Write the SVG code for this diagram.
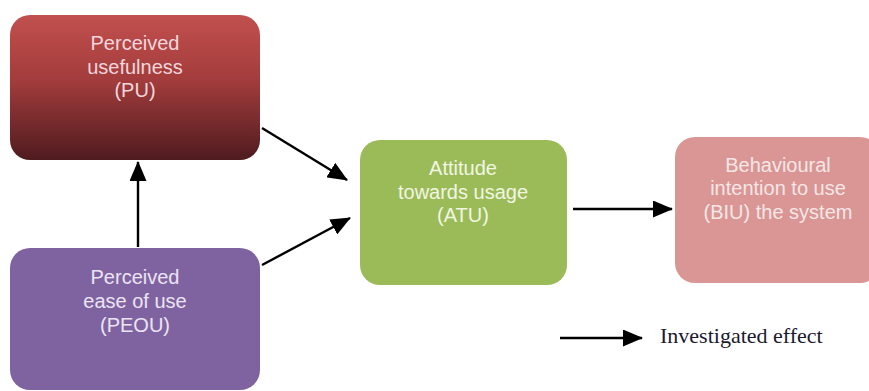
<svg xmlns="http://www.w3.org/2000/svg" width="869" height="391" viewBox="0 0 869 391">
<style>
.lbl{font-family:"Liberation Sans",Arial,sans-serif;font-size:20px;text-anchor:middle}
.con{stroke:#000;stroke-width:2.4;fill:none}
</style>
<defs>
<linearGradient id="puGrad" x1="0" y1="0" x2="0" y2="1">
<stop offset="0" stop-color="#c1504e"/>
<stop offset="0.45" stop-color="#a33c3c"/>
<stop offset="1" stop-color="#4f1b1f"/>
</linearGradient>
<marker id="ah" viewBox="0 0 20 17" refX="19" refY="8.5" markerWidth="20" markerHeight="17" markerUnits="userSpaceOnUse" orient="auto">
<path d="M0,0 L20,8.5 L0,17 z" fill="#000"/>
</marker>
</defs>
<rect width="869" height="391" fill="#fff"/>
<g id="pu">
<rect x="10" y="15" width="250" height="145" rx="20" fill="url(#puGrad)"/>
<text class="lbl" fill="#f3d6dc" x="135" y="50">Perceived</text>
<text class="lbl" fill="#f3d6dc" x="135" y="74">usefulness</text>
<text class="lbl" fill="#f3d6dc" x="135" y="97">(PU)</text>
</g>
<g id="peou">
<rect x="10" y="248" width="250" height="142" rx="20" fill="#7f63a1"/>
<text class="lbl" fill="#ece4f4" x="135" y="284">Perceived</text>
<text class="lbl" fill="#ece4f4" x="135" y="308">ease of use</text>
<text class="lbl" fill="#ece4f4" x="135" y="332">(PEOU)</text>
</g>
<g id="atu">
<rect x="360" y="140" width="207" height="145" rx="20" fill="#9bbb59"/>
<text class="lbl" fill="#f1f6e2" x="463" y="175">Attitude</text>
<text class="lbl" fill="#f1f6e2" x="463" y="199">towards usage</text>
<text class="lbl" fill="#f1f6e2" x="463" y="222">(ATU)</text>
</g>
<g id="biu">
<rect x="675" y="137" width="205" height="146" rx="20" fill="#d99694"/>
<text class="lbl" fill="#f6e6e6" x="778" y="172">Behavioural</text>
<text class="lbl" fill="#f6e6e6" x="778" y="195">intention to use</text>
<text class="lbl" fill="#f6e6e6" x="778" y="219">(BIU) the system</text>
</g>
<g id="connectors">
<line class="con" x1="138" y1="247" x2="138" y2="162" marker-end="url(#ah)"/>
<line class="con" x1="262" y1="128" x2="347" y2="180" marker-end="url(#ah)"/>
<line class="con" x1="262" y1="265" x2="350" y2="218" marker-end="url(#ah)"/>
<line class="con" x1="573" y1="209" x2="672" y2="209" marker-end="url(#ah)"/>
</g>
<g id="legend">
<line class="con" x1="560" y1="338" x2="642" y2="338" marker-end="url(#ah)"/>
<text x="660" y="343" font-family="Liberation Serif,'Times New Roman',serif" font-size="22" fill="#1a1a2e">Investigated effect</text>
</g>
</svg>
